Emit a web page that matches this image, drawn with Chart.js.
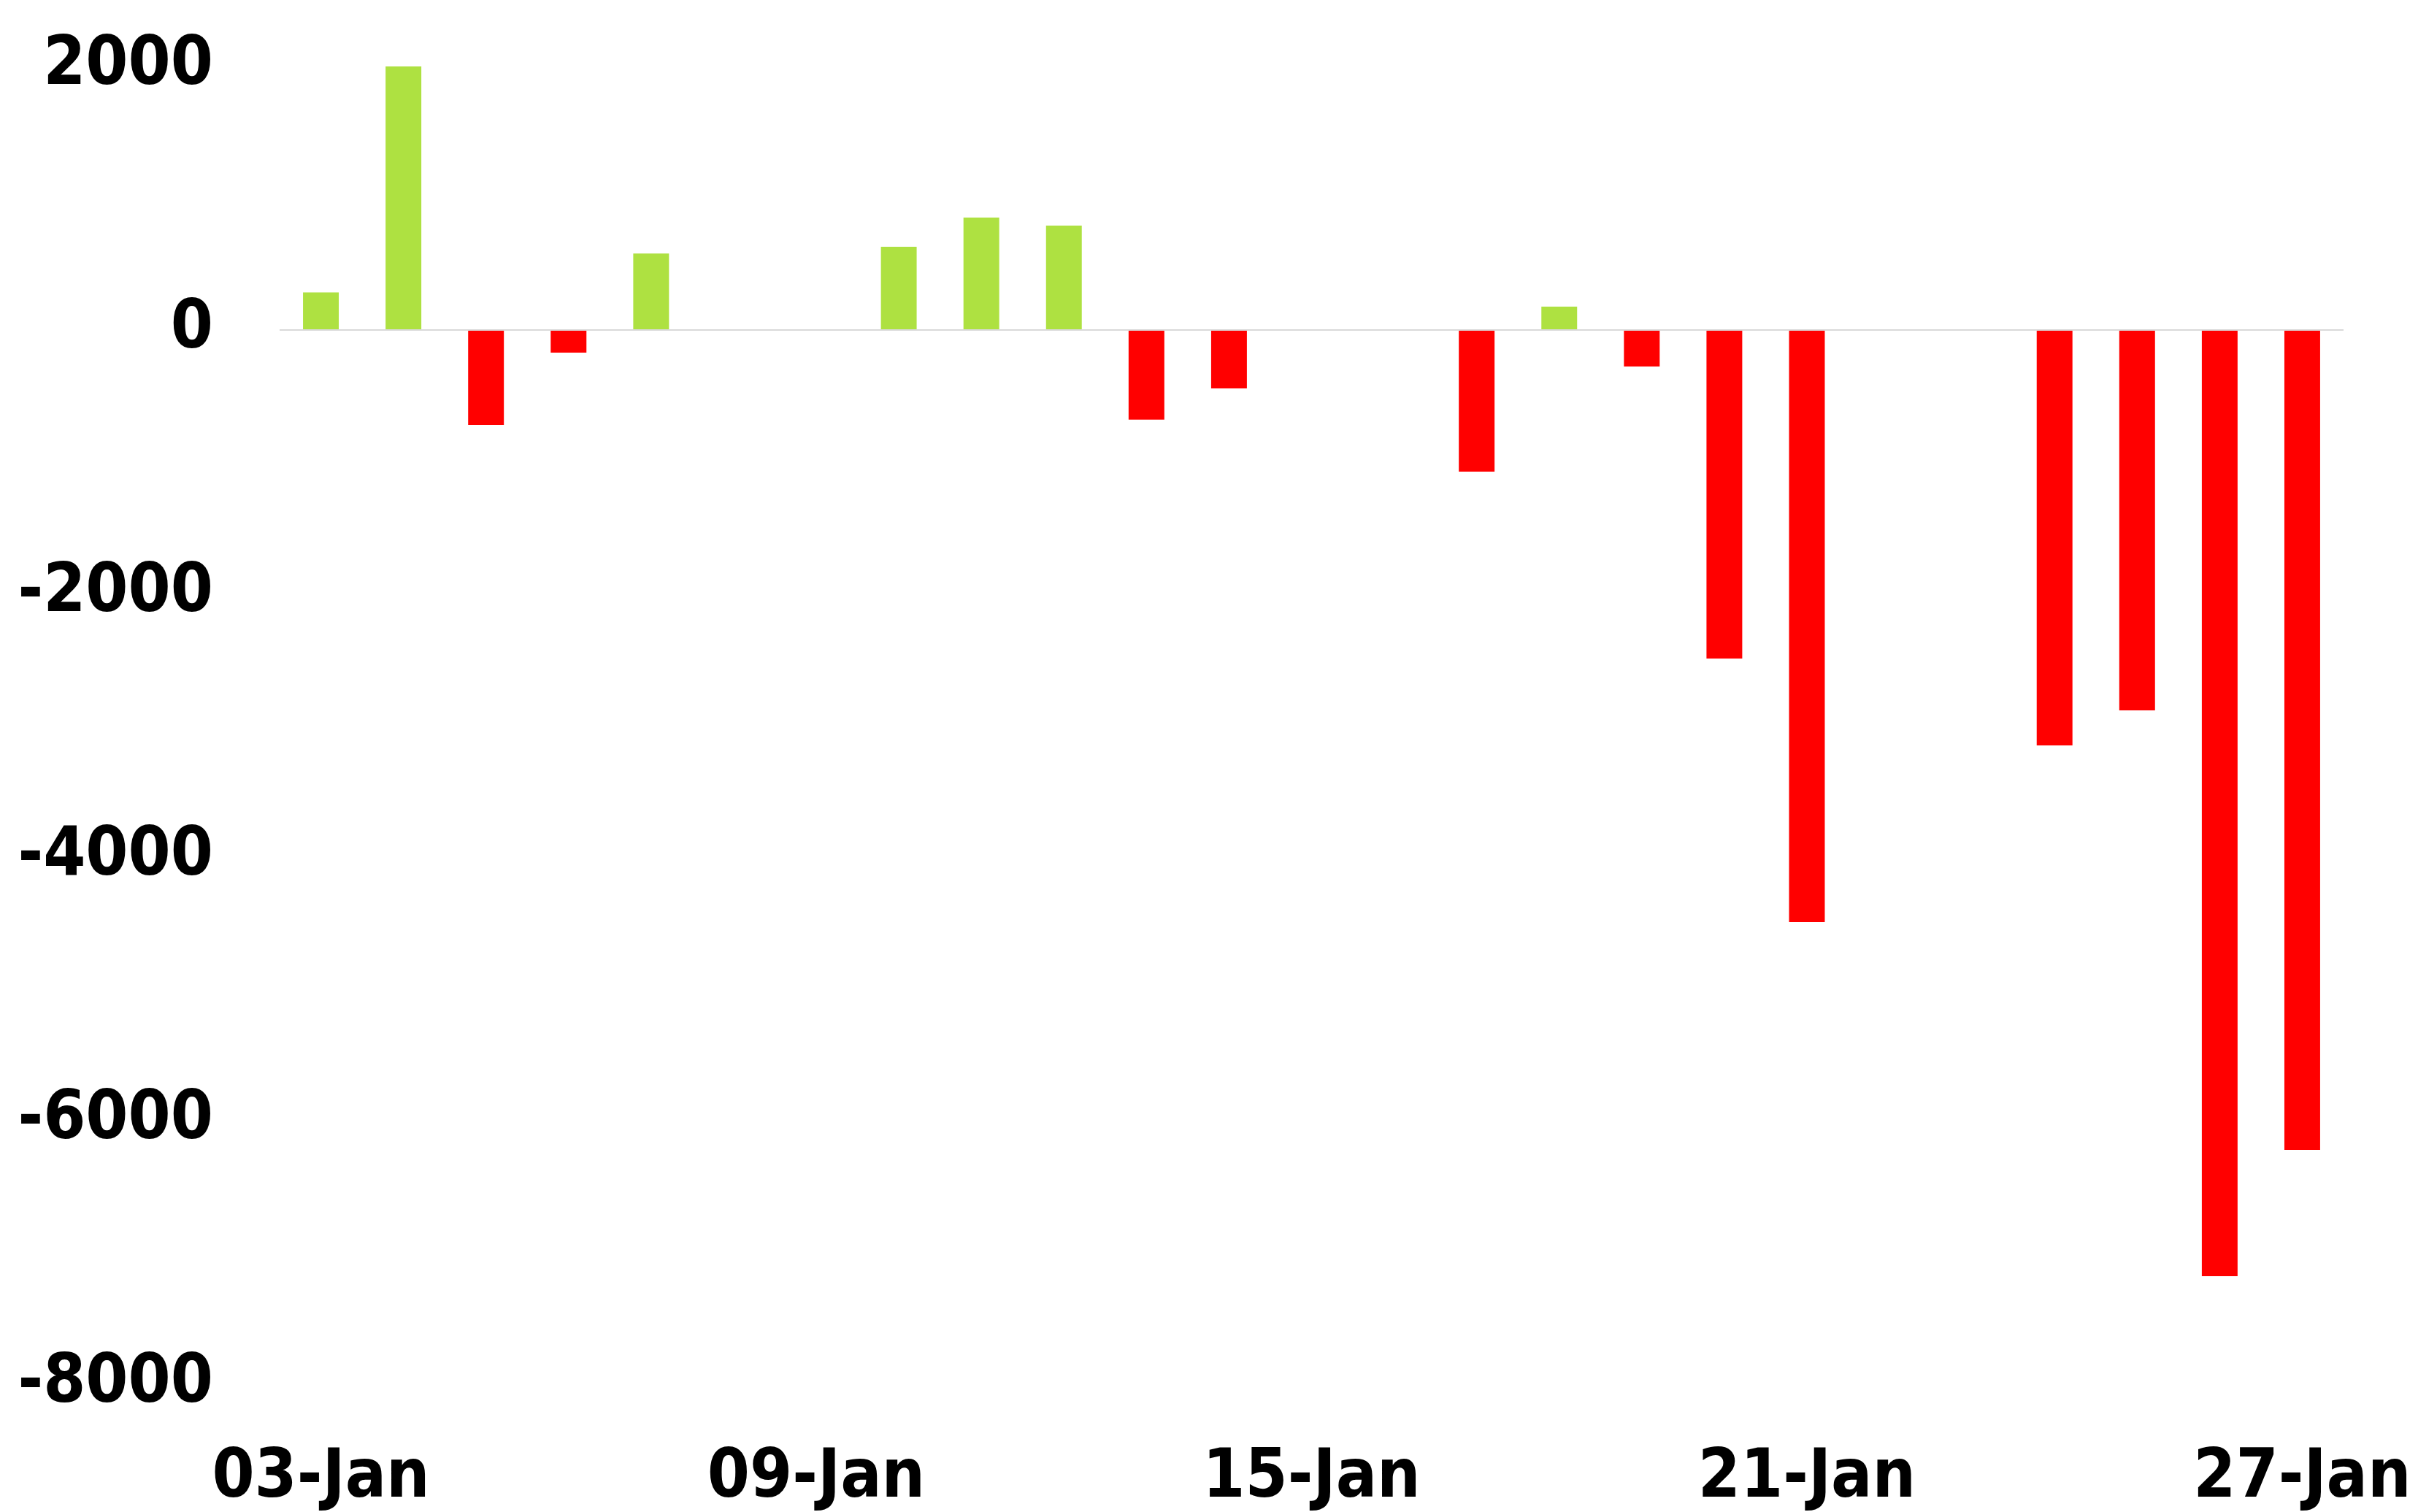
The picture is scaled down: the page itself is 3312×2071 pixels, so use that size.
<!DOCTYPE html>
<html>
<head>
<meta charset="utf-8">
<script src="https://cdn.jsdelivr.net/npm/chart.js@4"></script>
<style>
    html, body { margin: 0; padding: 0; background: #fff; }
    #wrap { width: 3312px; height: 2071px; }
</style>
</head>
<body>
<div id="wrap"><canvas id="flowChart"></canvas></div>
<script>
// daily values, 03-Jan .. 27-Jan (null = no bar)
const days = ["03-Jan", "04-Jan", "05-Jan", "06-Jan", "07-Jan", "08-Jan", "09-Jan",
    "10-Jan", "11-Jan", "12-Jan", "13-Jan", "14-Jan", "15-Jan", "16-Jan",
    "17-Jan", "18-Jan", "19-Jan", "20-Jan", "21-Jan", "22-Jan", "23-Jan",
    "24-Jan", "25-Jan", "26-Jan", "27-Jan"];
const flows = [285, 2000, -720, -172, 580, null, null,
    632, 853, 792, -680, -443, null, null,
    -1075, 177, -277, -2493, -4493, null, null,
    -3153, -2886, -7180, -6222];
const yTicks = [-8000, -6000, -4000, -2000, 0, 2000];

const GREEN = "#aee141";
const RED = "#ff0000";
const tickFont = { family: "'DejaVu Sans Condensed', 'DejaVu Sans', sans-serif", size: 93, weight: "bold" };

document.addEventListener("DOMContentLoaded", () => {
    const ctx = document.getElementById("flowChart").getContext("2d");

    new Chart(ctx, {
        type: "bar",
        data: {
            labels: days,
            datasets: [{
                data: flows,
                backgroundColor: flows.map(v => (v !== null && v < 0) ? RED : GREEN),
                borderWidth: 0,
                categoryPercentage: 1,
                barPercentage: 0.433
            }]
        },
        options: {
            responsive: true,
            maintainAspectRatio: false,
            animation: false,
            layout: { padding: { top: 91, right: 102, left: 0, bottom: 0 } },
            plugins: { legend: { display: false }, tooltip: { enabled: false } },
            scales: {
                x: {
                    grid: { display: false, drawTicks: false },
                    border: { display: false },
                    ticks: {
                        autoSkip: false,
                        maxRotation: 0,
                        padding: 74,
                        color: "#000",
                        font: tickFont,
                        callback: (val, i) => i % 6 === 0 ? days[i] : ""
                    },
                    afterFit: s => { s.height = 175; s.paddingLeft = 0; s.paddingRight = 0; }
                },
                y: {
                    min: -8000,
                    max: 2000,
                    afterBuildTicks: s => { s.ticks = yTicks.map(v => ({ value: v })); },
                    grid: {
                        drawTicks: false,
                        lineWidth: 2,
                        color: c => c.tick && c.tick.value === 0 ? "#d9d9d9" : "rgba(0,0,0,0)"
                    },
                    border: { display: false },
                    ticks: {
                        padding: 91,
                        color: "#000",
                        font: tickFont,
                        callback: v => String(v)
                    },
                    afterFit: s => { s.width = 383; s.paddingTop = 0; s.paddingBottom = 0; }
                }
            }
        }
    });
});
</script>
</body>
</html>
